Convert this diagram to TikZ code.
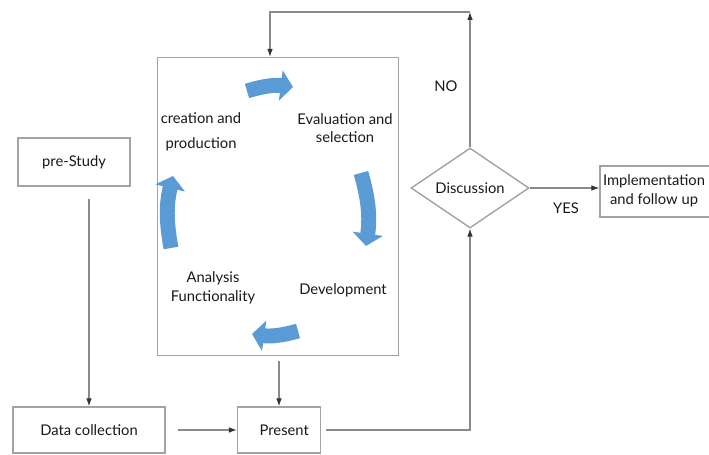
\documentclass[tikz,border=0pt]{standalone}
\usepackage{fontspec}
\setmainfont{Lato}
\usetikzlibrary{arrows.meta,shapes.geometric}
\definecolor{cyc}{HTML}{5B9BD5}
\definecolor{edgegray}{HTML}{A3A3A3}
\definecolor{wire}{HTML}{8A8A8A}
\begin{document}
\begin{tikzpicture}[x=0.02cm,y=-0.02cm,
  txt/.style={font=\fontsize{8.4}{10.5}\selectfont, text=black!90, align=center, inner sep=0pt},
  box/.style={draw=edgegray, line width=0.8pt, fill=white, font=\fontsize{8.4}{10.5}\selectfont, text=black!90, align=center},
  conn/.style={draw=wire, line width=0.6pt, -{Latex[length=4.5pt,width=3.2pt,color=black!80]}},
  cycarrow/.style={draw=cyc, line width=8.5pt, -{Triangle[width=17pt,length=7pt]}}]
\clip (0,0) rectangle (709,455);
\fill[white] (0,0) rectangle (709,455);
% boxes
\node[box, minimum width=4.82cm, minimum height=5.96cm] (cycle) at (278,206.5) {};
\node[box, minimum width=2.24cm, minimum height=0.96cm] (pre) at (74,162) {pre-Study};
\node[box, minimum width=3.04cm, minimum height=0.92cm] (data) at (89,430) {Data collection};
\node[box, minimum width=1.66cm, minimum height=0.92cm] (present) at (279,430) {\hspace*{6pt}Present};
\node[box, minimum width=2.4cm, minimum height=1.02cm] (impl) at (660,191.5) {};
\node[txt] (impltxt) at (654,191) {Implementation\\and follow up};
\node[box, shape=diamond, inner sep=0pt, aspect=1.475, minimum width=2.36cm, minimum height=1.6cm] (disc) at (470,188) {Discussion};
% cycle labels
\node[txt] (create) at (201,132) {creation and\\[3.5pt]production};
\node[txt] (eval) at (345,128) {Evaluation and\\selection};
\node[txt] (dev) at (343,290) {Development};
\node[txt] (anal) at (213,288) {Analysis\\Functionality};
\node[txt] (no) at (446,86) {NO};
\node[txt] (yes) at (566,208) {YES};
% blue cycle arrows
\draw[cycarrow] (247,91) to[bend left=12] (293,87);
\draw[cycarrow] (361,173) to[bend left=12] (366,246);
\draw[cycarrow] (298,331) to[bend left=12] (252,334);
\draw[cycarrow] (171,248) to[bend left=12] (173,176);
% connectors
\coordinate (tr) at (470,12);
\coordinate (tl) at (270,12);
\draw[conn, shorten <=7pt] (data.north |- pre.south) -- (data.north);
\draw[conn, shorten <=7pt] (data.east) -- (present.west);
\draw[conn, shorten <=3pt] (cycle.south -| present.north) -- (present.north);
\draw[conn, shorten <=3pt] (present.east) -- (present.east -| disc.south) -- (disc.south);
\draw[conn] (disc.east) -- (disc.east -| impl.west);
\draw[conn] (disc.north) -- (disc.north |- tr);
\draw[conn] (disc.north |- tr) -- (tl) -- (tl |- cycle.north);
\end{tikzpicture}
\end{document}
